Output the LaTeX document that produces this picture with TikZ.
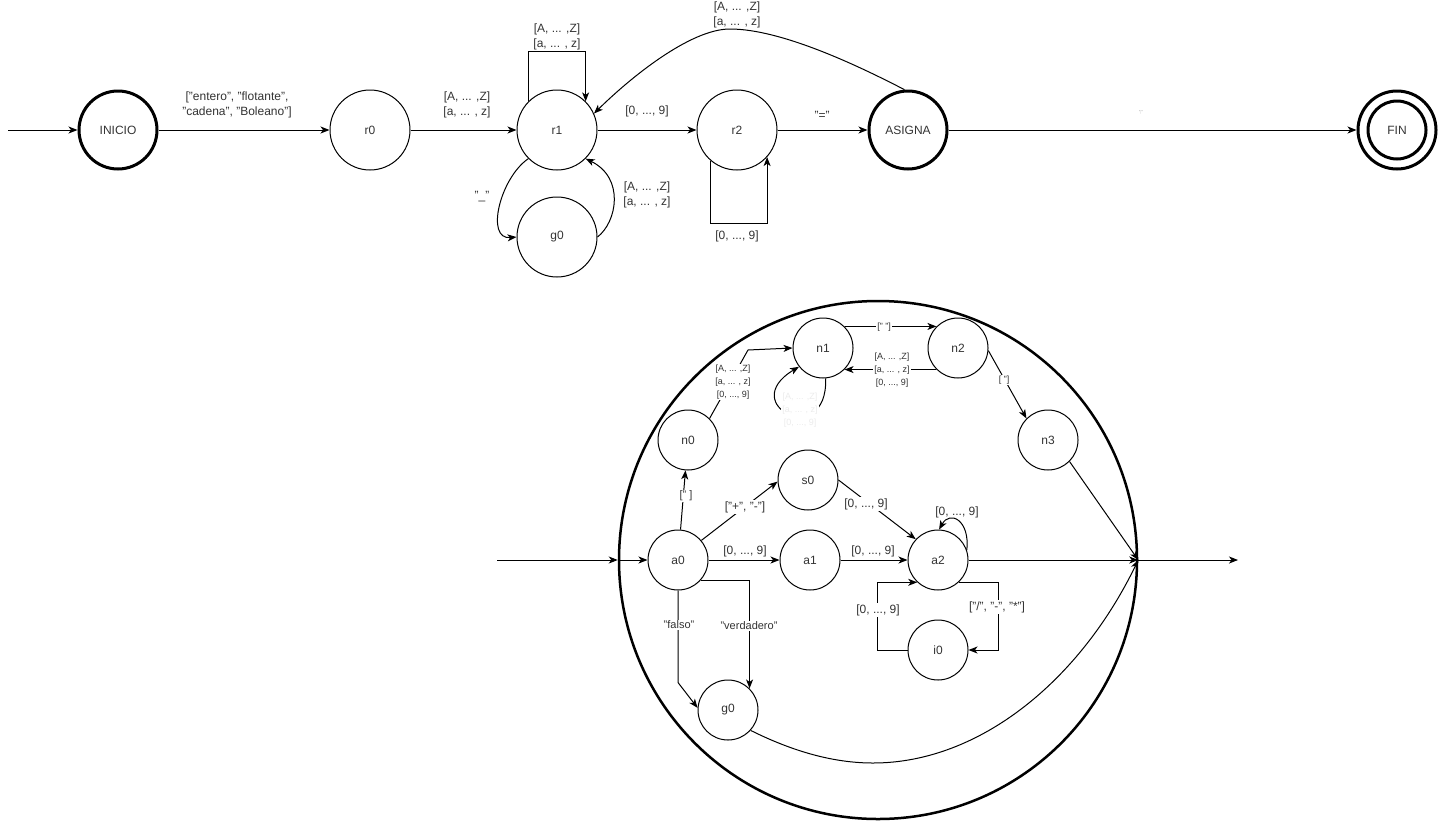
\documentclass[tikz,border=0pt]{standalone}
\usepackage{fontspec}
\setmainfont{Liberation Sans}
\usetikzlibrary{arrows.meta}
\definecolor{txt}{HTML}{333333}
\begin{document}
\begin{tikzpicture}[x=1pt,y=-1pt,
  st/.style={circle,draw,line width=1pt,minimum size=80pt,inner sep=0pt,text=txt,font=\fontsize{12}{14}\selectfont},
  stthick/.style={st,line width=3pt,minimum size=78pt},
  sm/.style={st,minimum size=60pt},
  arr/.style={line width=1pt,-{Stealth[length=9pt,width=7pt,inset=2.5pt]}},
  ln/.style={line width=1pt},
  lbl/.style={text=txt,font=\fontsize{12}{15}\selectfont,align=center,inner sep=1pt},
  lblw/.style={lbl,fill=white},
  lblm/.style={lblw,font=\fontsize{11}{13}\selectfont},
  lbls/.style={lblw,font=\fontsize{9}{13}\selectfont},
]
\useasboundingbox (0,0) rectangle (1439,822);

% ---------- top automaton ----------
\node[stthick] (inicio) at (118,130) {INICIO};
\node[st] (r0) at (370,130) {r0};
\node[st] (r1) at (557,130) {r1};
\node[st] (g0t) at (557,237) {g0};
\node[st] (r2) at (737,130) {r2};
\node[stthick] (asigna) at (908,130) {ASIGNA};
\node[stthick] (fin) at (1397,130) {FIN};
\node[circle,draw,line width=3pt,minimum size=58pt,inner sep=0pt] (fin2) at (fin.center) {};
\coordinate (start1) at (8,130);
\coordinate (peak) at (730,29);

\draw[arr] (start1) -- (inicio);
\draw[arr] (inicio) -- (r0);
\node[lbl] (l1) at (237,105) {["entero", "flotante",\\"cadena", "Boleano"]};
\draw[arr] (r0) -- (r1);
\node[lbl] (l2) at (467,105) {[A, ... ,Z]\\{}[a, ... , z]};
\draw[arr] (r1.135) -- ++(0,-50) -| (r1.45);
\node[lbl] (l3) at (557,37) {[A, ... ,Z]\\{}[a, ... , z]};
\draw[arr] (r1) -- (r2);
\node[lbl] (l4) at (647,111) {[0, ..., 9]};
\draw[arr] (r1.225) .. controls (500,178) and (485,240) .. (g0t.west);
\node[lbl] (l5) at (482,197) {"\_"};
\draw[arr] (g0t.east) .. controls (617,222) and (625,178) .. (r1.315);
\node[lbl] (l6) at (647,195) {[A, ... ,Z]\\{}[a, ... , z]};
\draw[arr] (r2.230) -- ++(0,62) -| (r2.318);
\node[lbl] (l7) at (737,236) {[0, ..., 9]};
\draw[arr] (r2) -- (asigna);
\node[lbl] (l8) at (822,115) {"="};
\draw[arr] (asigna.95) .. controls (855,64) and (780,29) .. (peak) .. controls (690,29) and (630,78) .. (r1.24);
\node[lbl] (l9) at (737,15) {[A, ... ,Z]\\{}[a, ... , z]};
\draw[arr] (asigna) -- (fin);
\node[lbl,font=\fontsize{4}{5}\selectfont,text=gray] (l10) at (1141,112) {";"};

% ---------- bottom automaton ----------
\node[circle,draw,line width=2.5pt,minimum size=518pt,inner sep=0pt] (big) at (878,560) {};
\node[sm] (n0) at (688,440) {n0};
\node[sm] (n1) at (823,348) {n1};
\node[sm] (n2) at (958,348) {n2};
\node[sm] (n3) at (1048,440) {n3};
\node[sm] (s0) at (808,480) {s0};
\node[sm] (a0) at (678,560) {a0};
\node[sm] (a1) at (810,560) {a1};
\node[sm] (a2) at (938,560) {a2};
\node[sm] (i0) at (938,650) {i0};
\node[sm] (g0b) at (728,710) {g0};
\coordinate (start2) at (497,560);
\coordinate (exit) at (1238,560);
\coordinate (bend1) at (748,350);
\coordinate (gbot) at (873,763);

\draw[arr] (start2) -- (big.west);
\draw[arr] (big.west) -- (a0);
\draw[arr] (big.east) -- (exit);

\draw[arr] (n0.45) -- (bend1) -- (n1.west);
\node[lbls] (m1) at (733,382) {[A, ... ,Z]\\{}[a, ... , z]\\{}[0, ..., 9]};
\draw[arr] (n1.45) -- (n2.135);
\node[lbls] (m2) at (884,327) {[" "]};
\draw[arr] (n2.225) -- (n1.315);
\node[lbls] (m3) at (892,370) {[A, ... ,Z]\\{}[a, ... , z]\\{}[0, ..., 9]};
\draw[arr] (n1.275) .. controls (828,450) and (735,405) .. (n1.218);
\node[lbls,text=gray!15] (m4) at (800,410) {[A, ... ,Z]\\{}[a, ... , z]\\{}[0, ..., 9]};
\draw[arr] (n2.355) -- (n3.135);
\node[lbls] (m5) at (1004,380) {[ "]};

\draw[arr] (a0) -- (n0);
\node[lblm] (m6) at (686,496) {[" ]};
\draw[arr] (a0.40) -- (s0.183);
\node[lblw] (m7) at (745,507) {["+", "-"]};
\draw[arr] (s0.east) -- (a2.137);
\node[lblw] (m8) at (866,504) {[0, ..., 9]};
\draw[arr] (a0) -- (a1);
\node[lbl] (m9) at (745,551) {[0, ..., 9]};
\draw[arr] (a1) -- (a2);
\node[lbl] (m10) at (873,551) {[0, ..., 9]};
\draw[arr] (a2.19) .. controls (970,520) and (950,510) .. (a2.88);
\node[lbl] (m11) at (957,512) {[0, ..., 9]};
\draw[arr] (a2.313) -- ++(40,0) |- (i0.east);
\node[lblw] (m12) at (997,607) {["/", "-", "*"]};
\draw[arr] (i0.west) -- ++(-30,0) |- (a2.227);
\node[lblw] (m13) at (878,610) {[0, ..., 9]};
\draw[arr] (a0.south) -- ++(0,92) -- (g0b.176);
\node[lblm] (m14) at (679,625) {"falso"};
\draw[arr] (a0.318) -| (g0b.45);
\node[lblm] (m15) at (749,626) {"verdadero"};

\draw[arr] (a2) -- (big.east);
\draw[arr] (n3.315) -- (big.east);
\draw[arr] (g0b.318) .. controls (800,755) and (840,763) .. (gbot) .. controls (980,763) and (1080,680) .. (big.east);
\end{tikzpicture}
\end{document}
